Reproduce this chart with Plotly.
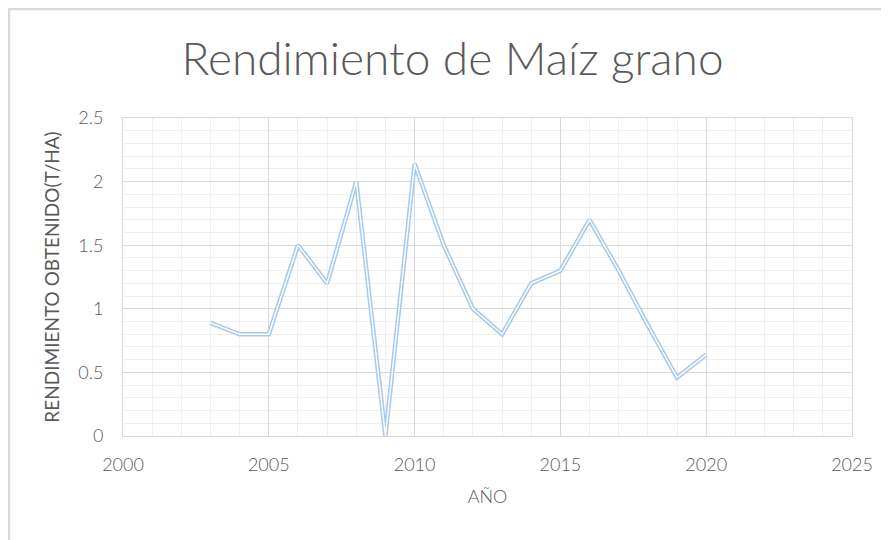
import plotly.graph_objects as go

years = [2003, 2004, 2005, 2006, 2007, 2008, 2009, 2010, 2011, 2012, 2013, 2014, 2015, 2016, 2017, 2018, 2019, 2020]
rendimiento = [0.89, 0.80, 0.80, 1.50, 1.20, 2.00, 0.00, 2.14, 1.50, 1.00, 0.80, 1.20, 1.30, 1.70, 1.30, 0.87, 0.46, 0.64]

title_text = "Rendimiento de Maíz grano"
x_title = "AÑO"
y_title = "RENDIMIENTO OBTENIDO(T/HA)"

font_family = "Lato, Open Sans, sans-serif"
grey = "#595959"

L, R, T, B = 115, 45, 110, 112
W, H = 889, 540
pw, ph = W - L - R, H - T - B

fig = go.Figure()
fig.add_trace(go.Scatter(x=years, y=rendimiento, mode="lines",
                         line=dict(color="#A9CBEA", width=4.5), hoverinfo="skip",
                         cliponaxis=False, showlegend=False))
fig.add_trace(go.Scatter(x=years, y=rendimiento, mode="lines",
                         line=dict(color="white", width=1.4),
                         cliponaxis=False, showlegend=False))

fig.update_layout(
    width=W, height=H,
    paper_bgcolor="white", plot_bgcolor="white",
    margin=dict(l=L, r=R, t=T, b=B, autoexpand=False),
    font=dict(family=font_family, color=grey, size=18),
    title=dict(text=title_text, x=0.5, xanchor="center", y=0.905, yanchor="middle",
               font=dict(size=46, color=grey, family=font_family, weight=300)),
    xaxis=dict(range=[2000, 2025], dtick=5, tick0=2000, showgrid=True,
               gridcolor="#D9D9D9", gridwidth=1, zeroline=False,
               showline=True, linecolor="#D9D9D9", mirror=True,
               ticks="", tickfont=dict(size=18, color=grey, weight=300), ticklabelstandoff=12,
               minor=dict(dtick=1, showgrid=True, gridcolor="#EFEFEF", gridwidth=1),
               title=dict(text=x_title, font=dict(size=18, color=grey, weight=300), standoff=16)),
    yaxis=dict(range=[0, 2.5], dtick=0.5, tick0=0, showgrid=True,
               gridcolor="#D9D9D9", gridwidth=1, zeroline=False,
               showline=True, linecolor="#D9D9D9", mirror=True,
               ticks="", tickfont=dict(size=18, color=grey, weight=300), ticklabelstandoff=15,
               minor=dict(dtick=0.1, showgrid=True, gridcolor="#EFEFEF", gridwidth=1),
               title=dict(text=y_title, font=dict(size=19, color=grey), standoff=13)),
)

fig.add_shape(type="rect", xref="paper", yref="paper",
              x0=-(L - 1) / pw, y0=-(B + 60) / ph, x1=1 + (R + 60) / pw, y1=1 + (T - 1) / ph,
              line=dict(color="#D9D9D9", width=2.5), fillcolor="rgba(0,0,0,0)", layer="below")

fig.write_html("out.html")
